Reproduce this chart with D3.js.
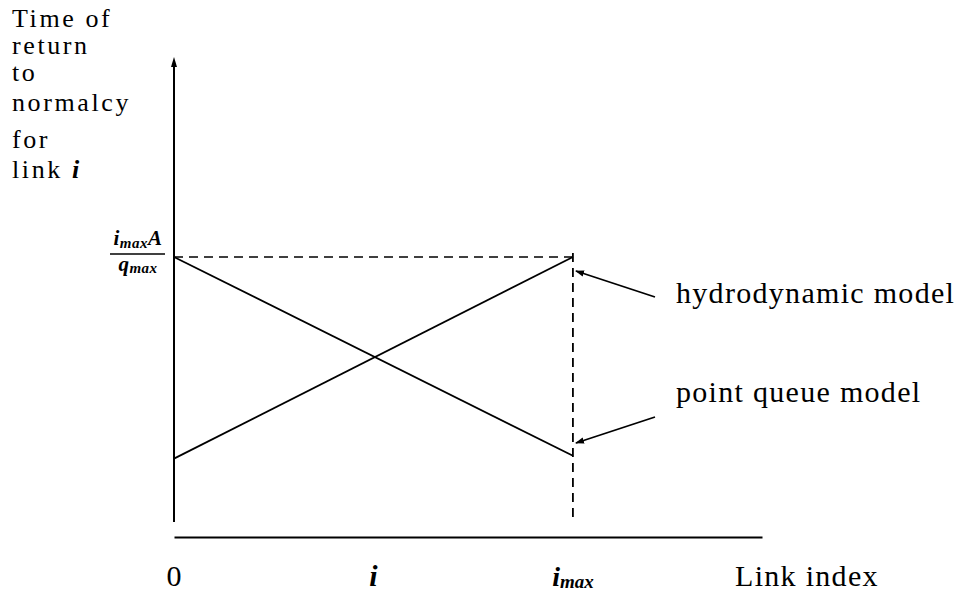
<!DOCTYPE html>
<html>
<head>
<meta charset="utf-8">
<script src="https://cdn.jsdelivr.net/npm/d3@7/dist/d3.min.js"></script>
<style>
  html, body { margin: 0; padding: 0; background: #fff; }
  svg { display: block; }
  text { font-family: "Liberation Serif", "Times New Roman", Times, serif; fill: #000; }
</style>
</head>
<body>
<svg id="chart" width="961" height="594"></svg>
<script>
// ---- data ----
const xPoints = [0, 1];                 // link index: 0 and i_max (normalised)
const hydrodynamic = [0.28, 1.0];       // time of return, hydrodynamic model
const pointQueue = [1.0, 0.29];         // time of return, point queue model
const xTicks = [0, 0.5, 1];
const xTickLabels = ["0", "i", "imax"];
const yLabelLines = ["Time of", "return", "to", "normalcy", "for", "link i"];
const seriesNames = ["hydrodynamic model", "point queue model"];
const xAxisMax = 1.474;
const yAxisMax = 1.714;

// ---- layout ----
const svg = d3.select("#chart");
const x = d3.scaleLinear().domain([0, xAxisMax]).range([174, 762]);
const y = d3.scaleLinear().domain([0, 1]).range([537, 257]);

// horizontal axis
const xAxis = d3.axisBottom(x).tickValues([]).tickSize(0).tickSizeOuter(0);
const gx = svg.append("g").attr("transform", `translate(0,${y(0)})`).call(xAxis);
gx.select(".domain").attr("stroke", "#000").attr("stroke-width", 2.2);

// vertical axis (with gap above horizontal axis) and arrow head
svg.append("line")
  .attr("x1", x(0)).attr("x2", x(0))
  .attr("y1", y(0) - 15).attr("y2", y(yAxisMax) + 4)
  .attr("stroke", "#000").attr("stroke-width", 2);
svg.append("path")
  .attr("d", `M${x(0)},${y(yAxisMax)} L${x(0) - 3},${y(yAxisMax) + 10} L${x(0) + 3},${y(yAxisMax) + 10} Z`)
  .attr("fill", "#000");

// dashed reference lines
svg.append("line")
  .attr("x1", x(0)).attr("x2", x(1) + 3)
  .attr("y1", y(1)).attr("y2", y(1))
  .attr("stroke", "#000").attr("stroke-width", 1.6).attr("stroke-dasharray", "9,6");
svg.append("line")
  .attr("x1", x(1)).attr("x2", x(1))
  .attr("y1", y(1) - 4).attr("y2", y(0) - 16)
  .attr("stroke", "#000").attr("stroke-width", 1.8).attr("stroke-dasharray", "9,6");

// series lines
const line = d3.line().x((d, i) => x(xPoints[i])).y(d => y(d));
[hydrodynamic, pointQueue].forEach(s => {
  svg.append("path").datum(s).attr("d", line)
    .attr("fill", "none").attr("stroke", "#000").attr("stroke-width", 1.8);
});

// annotation arrows
svg.append("defs").append("marker")
  .attr("id", "ah").attr("viewBox", "0 0 10 10").attr("refX", 9).attr("refY", 5)
  .attr("markerWidth", 9).attr("markerHeight", 9).attr("markerUnits", "userSpaceOnUse")
  .attr("orient", "auto")
  .append("path").attr("d", "M0,1.5 L10,5 L0,8.5 Z").attr("fill", "#000");

const annotations = [
  { name: seriesNames[0], tip: [x(1) + 3, 271], tail: [655, 297], text: [676, 303] },
  { name: seriesNames[1], tip: [x(1) + 3, 443], tail: [655, 417], text: [676, 402] }
];
annotations.forEach(a => {
  svg.append("line")
    .attr("x1", a.tail[0]).attr("y1", a.tail[1]).attr("x2", a.tip[0]).attr("y2", a.tip[1])
    .attr("stroke", "#000").attr("stroke-width", 1.8).attr("marker-end", "url(#ah)");
  svg.append("text").attr("x", a.text[0]).attr("y", a.text[1])
    .attr("font-size", 30).attr("letter-spacing", 1.3).text(a.name);
});

// x tick labels
const tickBase = 586;
xTicks.forEach((v, i) => {
  const lab = xTickLabels[i];
  const t = svg.append("text").attr("x", x(v)).attr("y", tickBase).attr("text-anchor", "middle");
  if (lab === "0") {
    t.attr("font-size", 30).text("0");
  } else if (lab === "i") {
    t.attr("font-size", 30).attr("font-weight", "bold").attr("font-style", "italic").text("i");
  } else {
    t.attr("font-weight", "bold").attr("font-style", "italic");
    t.append("tspan").attr("font-size", 28).text("i");
    t.append("tspan").attr("font-size", 19).attr("dy", 2).text("max");
  }
});
svg.append("text").attr("x", 735).attr("y", tickBase)
  .attr("font-size", 30).attr("letter-spacing", 1.3).text("Link index");

// y axis value label: i_max A / q_max
const fx = 138;
const num = svg.append("text").attr("x", fx).attr("y", 245).attr("text-anchor", "middle")
  .attr("font-weight", "bold").attr("font-style", "italic").attr("letter-spacing", 0.5);
num.append("tspan").attr("font-size", 21).text("i");
num.append("tspan").attr("font-size", 15).attr("dy", 3).text("max");
num.append("tspan").attr("font-size", 21).attr("dy", -3).text("A");
svg.append("line").attr("x1", 110).attr("x2", 165).attr("y1", 254).attr("y2", 254)
  .attr("stroke", "#000").attr("stroke-width", 1.6);
const den = svg.append("text").attr("x", fx).attr("y", 271).attr("text-anchor", "middle")
  .attr("font-weight", "bold").attr("font-style", "italic").attr("letter-spacing", 0.5);
den.append("tspan").attr("font-size", 21).text("q");
den.append("tspan").attr("font-size", 15).attr("dy", 2).text("max");

// y axis title lines
const titleBase = [27, 54, 81, 111, 148, 178];
yLabelLines.forEach((s, i) => {
  const t = svg.append("text").attr("x", 12).attr("y", titleBase[i])
    .attr("font-size", 26).attr("letter-spacing", 2.6);
  if (s === "link i") {
    t.append("tspan").text("link ");
    t.append("tspan").attr("font-weight", "bold").attr("font-style", "italic").text("i");
  } else {
    t.text(s);
  }
});
</script>
</body>
</html>
